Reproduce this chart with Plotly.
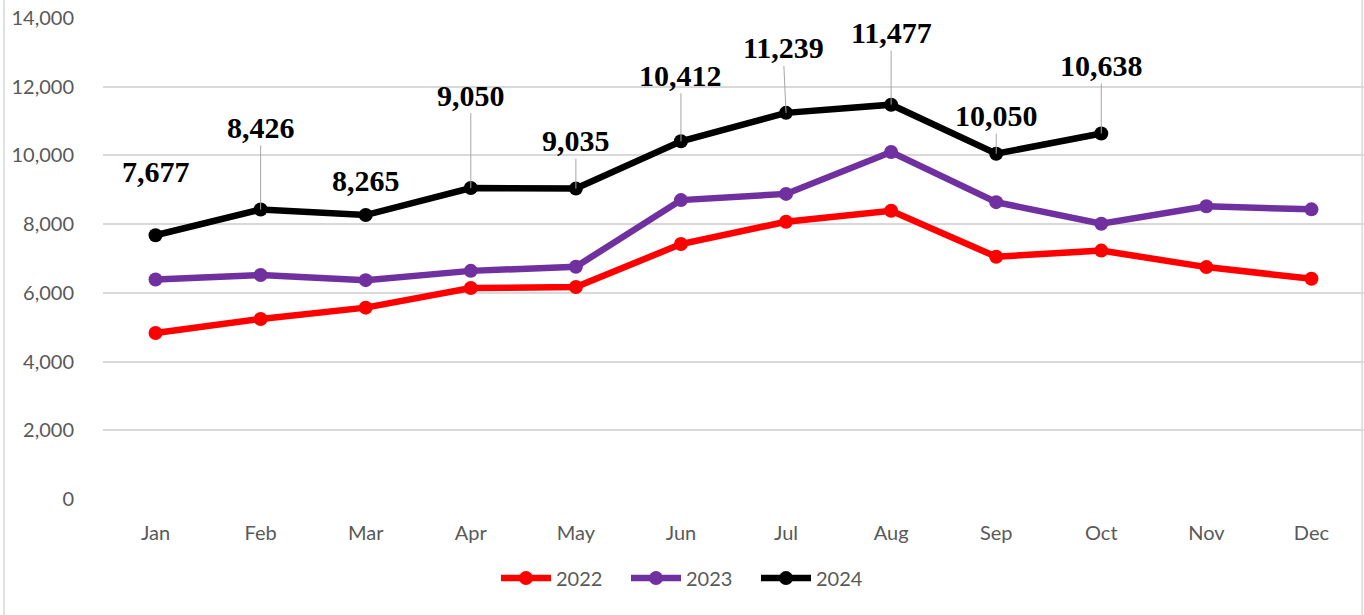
import plotly.graph_objects as go

months = ["Jan", "Feb", "Mar", "Apr", "May", "Jun", "Jul", "Aug", "Sep", "Oct", "Nov", "Dec"]
v2022 = [4830, 5240, 5570, 6140, 6170, 7420, 8070, 8390, 7050, 7230, 6750, 6410]
v2023 = [6390, 6520, 6370, 6640, 6760, 8700, 8880, 10100, 8640, 8010, 8520, 8430]
v2024 = [7677, 8426, 8265, 9050, 9035, 10412, 11239, 11477, 10050, 10638]
labels2024 = ["7,677", "8,426", "8,265", "9,050", "9,035", "10,412", "11,239", "11,477", "10,050", "10,638"]
# label offsets (px) and whether a leader line is shown
label_dx = [0, 0, 0, 0, 0, 0, -3, 0, 0, 0]
label_dy = [-64, -82, -35, -93, -48, -66, -65, -72, -38, -68]
leader = [False, True, False, True, True, True, True, True, True, True]

fig = go.Figure()
for name, vals, color in [("2022", v2022, "#FF0000"), ("2023", v2023, "#7030A0"), ("2024", v2024, "#000000")]:
    fig.add_trace(go.Scatter(
        x=months[:len(vals)], y=vals, name=name, mode="lines+markers",
        line=dict(color=color, width=6.5),
        marker=dict(color=color, size=14),
    ))

for i, (m, v, t) in enumerate(zip(months, v2024, labels2024)):
    fig.add_annotation(
        x=m, y=v, text="<b>" + t + "</b>", showarrow=True,
        ax=label_dx[i], ay=label_dy[i], arrowhead=0, arrowwidth=1,
        arrowcolor="#A6A6A6" if leader[i] else "rgba(0,0,0,0)",
        standoff=0,
        font=dict(family="Liberation Serif", size=30, color="#000000"),
    )

fig.add_shape(type="rect", xref="paper", yref="paper", x0=-0.0785, x1=0.9985, y0=-0.245, y1=1.04,
              line=dict(color="#D9D9D9", width=1.5), layer="below")

fig.update_layout(
    width=1364, height=615,
    margin=dict(l=103, r=0, t=18, b=116),
    paper_bgcolor="white", plot_bgcolor="white",
    font=dict(family="Lato", size=20, color="#595959"),
    showlegend=True,
    legend=dict(orientation="h", xref="container", yref="container", x=0.5066, y=0.06,
                xanchor="center", yanchor="middle", font=dict(size=20, color="#595959"),
                itemwidth=50, entrywidth=65, entrywidthmode="pixels"),
    xaxis=dict(type="category", categoryorder="array", categoryarray=months,
               range=[-0.5, 11.5], autorange=False,
               showgrid=False, showline=False, ticks="", ticklabelstandoff=20,
               tickfont=dict(size=20, color="#595959")),
    yaxis=dict(range=[0, 14000], dtick=2000, tickformat=",", showgrid=True,
               gridcolor="#D9D9D9", gridwidth=1.5, zeroline=False, showline=False,
               ticks="", ticklabelstandoff=28, tickfont=dict(size=20, color="#595959")),
)

fig.write_html("out.html", config={"displayModeBar": False},
               post_script="document.body.style.margin='0';")
